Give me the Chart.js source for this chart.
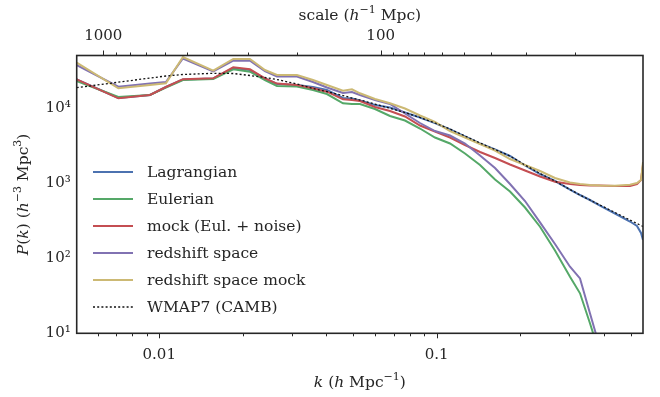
<!DOCTYPE html>
<html>
<head>
<meta charset="utf-8">
<script src="https://cdn.jsdelivr.net/npm/chart.js@4.4.1/dist/chart.umd.min.js"></script>
<style>
    html, body { margin: 0; padding: 0; background: #fff; }
</style>
</head>
<body>
<canvas id="myChart" width="660" height="397"></canvas>
<script>
/* k (h Mpc^-1) */
const kList = [0.00504, 0.00712, 0.00926, 0.01057, 0.01217, 0.01565, 0.01848, 0.02123, 0.02404, 0.02657,
    0.03136, 0.03583, 0.04022, 0.04595, 0.0495, 0.0529, 0.05993, 0.06788, 0.07686, 0.08706,
    0.0986, 0.1117, 0.1265, 0.1433, 0.1623, 0.1838, 0.2082, 0.2358, 0.267, 0.3024,
    0.3286, 0.3569, 0.3879, 0.4393, 0.4975, 0.5273, 0.5452, 0.5543];

/* P(k) per series */
const lagrangian = [24210, 13720, 15040, 19230, 24210, 24970, 34460, 32410, 24970, 21090,
    20460, 19230, 17540, 13720, 13510, 12700, 11070, 10250, 8790, 7540,
    6368, 5216, 4207, 3394, 2823, 2312, 1727, 1330, 1073, 826.5,
    698.2, 598.8, 505.8, 395.8, 309.5, 269.6, 217.5, 175.4];
const eulerian = [23120, 14150, 15040, 18940, 23840, 24590, 33110, 30760, 23840, 19830,
    19530, 17540, 15510, 11660, 11410, 11410, 9787, 7896, 6877, 5379,
    4080, 3394, 2496, 1754, 1124, 777.6, 475.6, 263.8, 127.1, 56.85,
    34.15, 13.6, 5.14, null, null, null, null, null];
const mock = [24360, 13600, 15040, 19230, 24430, 25120, 35220, 33110, 25120, 21350,
    20460, 18480, 16650, 13180, 12900, 12510, 10410, 9204, 7776, 5898,
    4907, 4080, 3241, 2614, 2175, 1781, 1482, 1232, 1050, 979,
    949, 935, 935, 922, 922, 979, 1107, 1754];
const redshift = [37780, 19410, 21410, 22420, 46130, 30950, 43120, 43120, 31430, 26550,
    26550, 22420, 18940, 16000, 16490, 15040, 12900, 11410, 8524, 6368,
    4981, 4338, 3394, 2348, 1600, 979, 580.7, 301.1, 155.1, 77.27,
    53.9, 18.48, 6.37, null, null, null, null, null];
const redshiftMock = [40600, 18480, 20460, 21540, 48310, 31720, 45430, 45430, 32410, 27800,
    27800, 23840, 20460, 17170, 17920, 15850, 13300, 11660, 9938, 8017,
    6568, 4981, 4080, 3342, 2737, 2109, 1754, 1459, 1177, 1025,
    979, 949, 935, 929, 960, 1010, 1107, 1923];
const wmap7 = [18830, 22280, 25350, 26960, 28230, 29290, 29110, 27380, 25750, 24210,
    21090, 18370, 16650, 14810, 13720, 12900, 11410, 10000, 8790, 7540,
    6368, 5297, 4273, 3446, 2823, 2312, 1754, 1351, 1073, 826.5,
    698.2, 598.8, 513.7, 408.1, 324.0, 291.1, 273.7, 265.5];

const seriesNames = ['Lagrangian', 'Eulerian', 'mock (Eul. + noise)', 'redshift space', 'redshift space mock', 'WMAP7 (CAMB)'];

/* axis ranges and ticks */
const kMin = 0.00504;
const kMax = 0.5543;
const pMin = 10;
const pMax = 50600;
const kTicks = [0.006, 0.007, 0.008, 0.009, 0.01, 0.02, 0.03, 0.04, 0.05, 0.06, 0.07, 0.08, 0.09, 0.1, 0.2, 0.3, 0.4, 0.5];
const kTickLabels = [0.01, 0.1];
const scaleTicks = [1000, 900, 800, 700, 600, 500, 400, 300, 200, 100, 90, 80, 70, 60, 50, 40, 30, 20];
const scaleTickLabels = [1000, 100];
const pTicks = [10, 100, 1000, 10000];
const pTickLabels = ['10¹', '10²', '10³', '10⁴'];

const colors = ['#4C72B0', '#55A868', '#C44E52', '#8172B2', '#CCB974', '#111111'];
const FONT = '"DejaVu Serif", "Liberation Serif", serif';
const TEXT = '#262626';

function pairs(vals) {
    return kList.map((k, i) => ({ x: k, y: vals[i] }));
}

function makeSet(i, vals) {
    return {
        label: seriesNames[i],
        data: pairs(vals),
        borderColor: colors[i],
        borderWidth: i === 5 ? 1.3 : 2,
        borderDash: i === 5 ? [2, 2.2] : [],
        order: 6 - i,
        pointRadius: 0,
        tension: 0,
        clip: 0
    };
}

/* mixed italic / superscript text */
function fontFor(p, size) {
    return (p.it ? 'italic ' : '') + (p.sup ? Math.round(size * 0.7) : size) + 'px ' + FONT;
}
function drawRich(ctx, parts, x, y, size, angle) {
    ctx.save();
    ctx.translate(x, y);
    ctx.rotate(angle);
    let w = 0;
    parts.forEach(p => { ctx.font = fontFor(p, size); w += ctx.measureText(p.t).width; });
    let cx = -w / 2;
    ctx.textAlign = 'left';
    ctx.textBaseline = 'alphabetic';
    ctx.fillStyle = TEXT;
    parts.forEach(p => {
        ctx.font = fontFor(p, size);
        ctx.fillText(p.t, cx, size * 0.36 - (p.sup ? size * 0.42 : 0));
        cx += ctx.measureText(p.t).width;
    });
    ctx.restore();
}

const decorate = {
    id: 'decorate',
    afterDraw(chart) {
        const ctx = chart.ctx;
        const a = chart.chartArea;
        const sx = chart.scales.x;
        const sx2 = chart.scales.x2;
        ctx.save();
        ctx.strokeStyle = TEXT;
        ctx.lineWidth = 1;

        /* tick marks */
        kTicks.forEach(v => {
            const px = Math.round(sx.getPixelForValue(v)) + 0.5;
            const len = kTickLabels.includes(v) ? 5 : 3;
            ctx.beginPath(); ctx.moveTo(px, a.bottom); ctx.lineTo(px, a.bottom + len); ctx.stroke();
        });
        scaleTicks.forEach(v => {
            const px = Math.round(sx2.getPixelForValue(v)) + 0.5;
            const len = scaleTickLabels.includes(v) ? 5 : 3;
            ctx.beginPath(); ctx.moveTo(px, a.top); ctx.lineTo(px, a.top - len); ctx.stroke();
        });

        /* frame */
        ctx.lineWidth = 1.6;
        ctx.strokeRect(a.left, a.top, a.right - a.left, a.bottom - a.top);

        /* legend */
        ctx.font = '15.5px ' + FONT;
        ctx.textBaseline = 'middle';
        ctx.textAlign = 'left';
        chart.data.datasets.forEach((d, i) => {
            const yy = 172 + i * 27;
            ctx.strokeStyle = d.borderColor;
            ctx.lineWidth = d.borderWidth;
            ctx.setLineDash(d.borderDash);
            ctx.beginPath(); ctx.moveTo(93, yy); ctx.lineTo(133, yy); ctx.stroke();
            ctx.setLineDash([]);
            ctx.fillStyle = TEXT;
            ctx.fillText(d.label, 147, yy + 1);
        });

        /* axis titles */
        drawRich(ctx, [{ t: 'k', it: 1 }, { t: ' (' }, { t: 'h', it: 1 }, { t: ' Mpc' }, { t: '−1', sup: 1 }, { t: ')' }],
            (a.left + a.right) / 2, 381, 15.5, 0);
        drawRich(ctx, [{ t: 'scale (' }, { t: 'h', it: 1 }, { t: '−1', sup: 1 }, { t: ' Mpc)' }],
            (a.left + a.right) / 2, 14, 15.5, 0);
        drawRich(ctx, [{ t: 'P', it: 1 }, { t: '(' }, { t: 'k', it: 1 }, { t: ') (' }, { t: 'h', it: 1 }, { t: '−3', sup: 1 },
            { t: ' Mpc' }, { t: '3', sup: 1 }, { t: ')' }],
            22, (a.top + a.bottom) / 2, 15.5, -Math.PI / 2);
        ctx.restore();
    }
};

const tickFont = { family: FONT, size: 15 };

let ctx = document.getElementById('myChart').getContext('2d');

let myChart = new Chart(ctx, {
    type: 'line',
    data: {
        datasets: [
            makeSet(0, lagrangian),
            makeSet(1, eulerian),
            makeSet(2, mock),
            makeSet(3, redshift),
            makeSet(4, redshiftMock),
            makeSet(5, wmap7)
        ]
    },
    options: {
        responsive: false,
        animation: false,
        layout: { padding: { left: 0, right: 17, top: 0, bottom: 0 } },
        plugins: {
            legend: { display: false },
            tooltip: { enabled: false }
        },
        scales: {
            x: {
                type: 'logarithmic',
                position: 'bottom',
                min: kMin,
                max: kMax,
                grid: { display: false, drawTicks: false },
                border: { display: false },
                afterBuildTicks: s => { s.ticks = kTicks.map(v => ({ value: v })); },
                afterFit: s => { s.height = 63.7; },
                ticks: {
                    autoSkip: false,
                    maxRotation: 0,
                    padding: 13,
                    color: TEXT,
                    font: tickFont,
                    callback: v => kTickLabels.includes(v) ? String(v) : ''
                }
            },
            x2: {
                type: 'logarithmic',
                position: 'top',
                reverse: true,
                min: 2 * Math.PI / kMax,
                max: 2 * Math.PI / kMin,
                grid: { display: false, drawTicks: false },
                border: { display: false },
                afterBuildTicks: s => { s.ticks = scaleTicks.map(v => ({ value: v })); },
                afterFit: s => { s.height = 55.5; },
                ticks: {
                    autoSkip: false,
                    maxRotation: 0,
                    padding: 10,
                    color: TEXT,
                    font: tickFont,
                    callback: v => scaleTickLabels.includes(v) ? String(v) : ''
                }
            },
            y: {
                type: 'logarithmic',
                min: pMin,
                max: pMax,
                grid: { display: false, drawTicks: false },
                border: { display: false },
                afterBuildTicks: s => { s.ticks = pTicks.map(v => ({ value: v })); },
                afterFit: s => { s.width = 76.7; },
                ticks: {
                    padding: 6,
                    color: TEXT,
                    font: tickFont,
                    callback: v => pTickLabels[pTicks.indexOf(v)]
                }
            }
        }
    },
    plugins: [decorate]
});
</script>
</body>
</html>
